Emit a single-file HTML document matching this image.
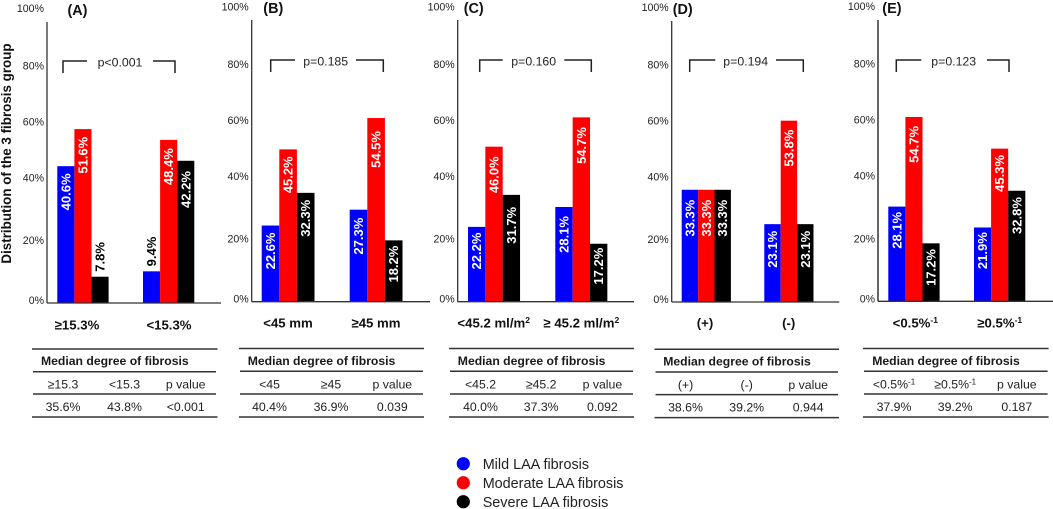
<!DOCTYPE html>
<html lang="en">
<head>
<meta charset="utf-8">
<title>Distribution of the 3 fibrosis groups</title>
<style>
html,body{margin:0;padding:0;background:#fff;}
svg{display:block;font-family:"Liberation Sans",sans-serif;}
.th{font-size:12.2px;font-weight:bold;fill:#1a1a1a;}
.td{font-size:12.3px;fill:#222;text-anchor:middle;}
.rule{stroke:#333;stroke-width:1.5;}
.lg{font-size:14.4px;fill:#222;}
</style>
</head>
<body>
<svg id="figure" width="1053" height="509" viewBox="0 0 1053 509" xmlns="http://www.w3.org/2000/svg">
  <rect x="0" y="0" width="1053" height="509" fill="#fff"/>
  <text transform="translate(6.5,153.5) rotate(-90)" text-anchor="middle" dominant-baseline="central" font-size="13.4" font-weight="bold" fill="#111">Distribution of the 3 fibrosis group</text>
  <g id="panels"></g>

  <g>
    <line class="rule" x1="32" x2="217.5" y1="349" y2="349"/>
    <line class="rule" x1="33" x2="216" y1="371.7" y2="371.7"/>
    <line class="rule" x1="33" x2="216" y1="394" y2="394"/>
    <line class="rule" x1="32" x2="217.5" y1="417" y2="417"/>
    <text class="th" x="41" y="365">Median degree of fibrosis</text>
    <text class="td" x="63" y="388.5">≥15.3</text>
    <text class="td" x="124.5" y="388.5">&lt;15.3</text>
    <text class="td" x="185.7" y="388.5">p value</text>
    <text class="td" x="63" y="411">35.6%</text>
    <text class="td" x="124.5" y="411">43.8%</text>
    <text class="td" x="185.7" y="411">&lt;0.001</text>
  </g>
  <g>
    <line class="rule" x1="239" x2="424" y1="348.5" y2="348.5"/>
    <line class="rule" x1="240" x2="423" y1="371.2" y2="371.2"/>
    <line class="rule" x1="240" x2="423" y1="394" y2="394"/>
    <line class="rule" x1="239" x2="424" y1="417" y2="417"/>
    <text class="th" x="247.7" y="365">Median degree of fibrosis</text>
    <text class="td" x="269.5" y="388.5">&lt;45</text>
    <text class="td" x="331" y="388.5">≥45</text>
    <text class="td" x="392.3" y="388.5">p value</text>
    <text class="td" x="269.5" y="411">40.4%</text>
    <text class="td" x="331" y="411">36.9%</text>
    <text class="td" x="392.3" y="411">0.039</text>
  </g>
  <g>
    <line class="rule" x1="449" x2="634" y1="348.5" y2="348.5"/>
    <line class="rule" x1="450" x2="633" y1="371.2" y2="371.2"/>
    <line class="rule" x1="450" x2="633" y1="394" y2="394"/>
    <line class="rule" x1="449" x2="634" y1="417" y2="417"/>
    <text class="th" x="457.8" y="365">Median degree of fibrosis</text>
    <text class="td" x="480.5" y="388.5">&lt;45.2</text>
    <text class="td" x="541.2" y="388.5">≥45.2</text>
    <text class="td" x="602.4" y="388.5">p value</text>
    <text class="td" x="480.5" y="411">40.0%</text>
    <text class="td" x="541.2" y="411">37.3%</text>
    <text class="td" x="602.4" y="411">0.092</text>
  </g>
  <g>
    <line class="rule" x1="654.5" x2="839" y1="349.2" y2="349.2"/>
    <line class="rule" x1="655.5" x2="838" y1="372" y2="372"/>
    <line class="rule" x1="655.5" x2="838" y1="394.6" y2="394.6"/>
    <line class="rule" x1="654.5" x2="839" y1="417.6" y2="417.6"/>
    <text class="th" x="663.2" y="365.5">Median degree of fibrosis</text>
    <text class="td" x="685.5" y="389">(+)</text>
    <text class="td" x="746.7" y="389">(-)</text>
    <text class="td" x="808.2" y="389">p value</text>
    <text class="td" x="685.5" y="411.5">38.6%</text>
    <text class="td" x="746.7" y="411.5">39.2%</text>
    <text class="td" x="808.2" y="411.5">0.944</text>
  </g>
  <g>
    <line class="rule" x1="863" x2="1048.6" y1="348.5" y2="348.5"/>
    <line class="rule" x1="864" x2="1047.6" y1="371.3" y2="371.3"/>
    <line class="rule" x1="864" x2="1047.6" y1="394" y2="394"/>
    <line class="rule" x1="863" x2="1048.6" y1="417" y2="417"/>
    <text class="th" x="872.2" y="365">Median degree of fibrosis</text>
    <text class="td" x="894" y="388.5">&lt;0.5%<tspan dy="-4" font-size="8">-1</tspan></text>
    <text class="td" x="955.2" y="388.5">≥0.5%<tspan dy="-4" font-size="8">-1</tspan></text>
    <text class="td" x="1016.8" y="388.5">p value</text>
    <text class="td" x="894" y="411">37.9%</text>
    <text class="td" x="955.2" y="411">39.2%</text>
    <text class="td" x="1016.8" y="411">0.187</text>
  </g>

  <g>
    <circle cx="463.3" cy="463.7" r="6.6" fill="#0000ff"/>
    <text class="lg" x="482.7" y="469">Mild LAA fibrosis</text>
    <circle cx="463.3" cy="482.7" r="6.6" fill="#ff0000"/>
    <text class="lg" x="482.7" y="488">Moderate LAA fibrosis</text>
    <circle cx="463.3" cy="501.7" r="6.6" fill="#000"/>
    <text class="lg" x="482.7" y="507">Severe LAA fibrosis</text>
  </g>
</svg>

<script>
// Chart data (one entry per panel, two groups per panel)
const panelTitles = ['(A)', '(B)', '(C)', '(D)', '(E)'];
const categories = [
  ['≥15.3%', '<15.3%'],
  ['<45 mm', '≥45 mm'],
  ['<45.2 ml/m', '≥ 45.2 ml/m'],
  ['(+)', '(-)'],
  ['<0.5%', '≥0.5%']
];
const categorySuperscripts = [
  ['', ''],
  ['', ''],
  ['2', '2'],
  ['', ''],
  ['-1', '-1']
];
const mildValues = [
  [40.6, 9.4],
  [22.6, 27.3],
  [22.2, 28.1],
  [33.3, 23.1],
  [28.1, 21.9]
];
const moderateValues = [
  [51.6, 48.4],
  [45.2, 54.5],
  [46.0, 54.7],
  [33.3, 53.8],
  [54.7, 45.3]
];
const severeValues = [
  [7.8, 42.2],
  [32.3, 18.2],
  [31.7, 17.2],
  [33.3, 23.1],
  [17.2, 32.8]
];
const pValues = ['p<0.001', 'p=0.185', 'p=0.160', 'p=0.194', 'p=0.123'];
const tickLabels = ['0%', '20%', '40%', '60%', '80%', '100%'];
// In the source figure the printed tick labels do not line up with the bars' own
// scale; these are the bar-scale values at which each printed label sits.
const tickValues = [0.6, 18.4, 37, 53.6, 70.2, 87.3];

const seriesNames = ['mild', 'moderate', 'severe'];
const seriesColors = ['#0000ff', '#ff0000', '#000000'];
const seriesValues = [mildValues, moderateValues, severeValues];

// Layout only: panel frames and how far each printed value sits below its bar top
const frames = [
  {axisX: 47,    axisEnd: 221,  top: 22, base: 303,   group0: 57.3,  group1: 143,   barW: 17.1, cat0: 77,    cat1: 169,   catY: 325, br0: 63,    br1: 175,   gap0: 87,    gap1: 153,   pX: 120,   brY: 61, titleX: 67.5},
  {axisX: 251.7, axisEnd: 430,  top: 20, base: 301.7, group0: 261.7, group1: 349.7, barW: 17.6, cat0: 288,   cat1: 376,   catY: 323, br0: 270.7, br1: 383.3, gap0: 295,   gap1: 356,   pX: 325.7, brY: 60, titleX: 263.3},
  {axisX: 457.7, axisEnd: 634,  top: 20, base: 301.7, group0: 468,   group1: 555.3, barW: 17.35, cat0: 493.7, cat1: 581.3, catY: 323, br0: 479.7, br1: 591.3, gap0: 502.7, gap1: 564.3, pX: 533.7, brY: 60, titleX: 463.7},
  {axisX: 671.7, axisEnd: 839.3, top: 21, base: 302,  group0: 681.7, group1: 764.3, barW: 16.4, cat0: 705,   cat1: 788.7, catY: 323, br0: 689.7, br1: 803.3, gap0: 715.3, gap1: 776,   pX: 745.7, brY: 60, titleX: 672.7},
  {axisX: 878,   axisEnd: 1053, top: 20, base: 301.3, group0: 888.3, group1: 974,   barW: 17.1, cat0: 915.3, cat1: 999.7, catY: 323, br0: 896.3, br1: 1009,  gap0: 921.3, gap1: 987,   pX: 953.7, brY: 60, titleX: 882.3}
];
const labelInsetLayout = [
  [[7.3, 5], [7.7, 8.3], [5, 10.3]],
  [[7, 8], [7, 13], [7, 5.3]],
  [[5.7, 9], [9.7, 9.7], [12, 4]],
  [[10, 6.7], [10, 9], [10, 6.7]],
  [[5.3, 4.7], [9, 6.3], [5.7, 6.3]]
];
const PX_PER_UNIT = 3.37;
const SVG_NS = 'http://www.w3.org/2000/svg';
const root = document.getElementById('panels');

function yScale(frame, value) { return frame.base - value * PX_PER_UNIT; }
function xScale(frame, groupIndex, seriesIndex) {
  return (groupIndex === 0 ? frame.group0 : frame.group1) + seriesIndex * frame.barW;
}
function make(tag, parent, attrs) {
  const node = document.createElementNS(SVG_NS, tag);
  Object.keys(attrs).forEach(function (k) { node.setAttribute(k, attrs[k]); });
  parent.appendChild(node);
  return node;
}

frames.forEach(function (f, p) {
  const letter = 'abcde'[p];
  const g = make('g', root, {});
  
  

  const title = make('text', g, {x: f.titleX, y: f.top - 7, 'font-size': 14.4, 'font-weight': 'bold', fill: '#111'});
  
  
  title.textContent = panelTitles[p];

  tickLabels.forEach(function (label, t) {
    const tick = make('text', g, {
      x: f.axisX - 3, y: yScale(f, tickValues[t]), 'text-anchor': 'end',
      'dominant-baseline': 'central', 'font-size': 10.6, fill: '#222'
    });
    
    
    tick.textContent = label;
  });

  seriesValues.forEach(function (series, s) {
    series[p].forEach(function (value, i) {
      const x = xScale(f, i, s);
      const y = yScale(f, value);
      const bar = make('rect', g, {x: x, y: y, width: f.barW, height: f.base - y, fill: seriesColors[s]});
      
      
    });
  });

  seriesValues.forEach(function (series, s) {
    series[p].forEach(function (value, i) {
      const cx = xScale(f, i, s) + f.barW / 2;
      const y = yScale(f, value);
      const outside = value < 10;
      const lab = make('text', g, {
        transform: 'translate(' + cx + ',' + (outside ? y - 5 : y + labelInsetLayout[p][s][i]) + ') rotate(-90)',
        'text-anchor': outside ? 'start' : 'end',
        'dominant-baseline': 'central',
        'font-size': 13, 'font-weight': 'bold',
        fill: outside ? '#000' : '#fff'
      });
      
      
      lab.textContent = value.toFixed(1) + '%';
    });
  });

  const axisStroke = p === 4 ? '#555' : '#333';
  const yAxis = make('line', g, {x1: f.axisX, x2: f.axisX, y1: f.top, y2: f.base, stroke: axisStroke, 'stroke-width': p === 4 ? 1.8 : 1.3});
  
  
  const xAxis = make('line', g, {x1: f.axisX, x2: f.axisEnd, y1: f.base, y2: f.base, stroke: '#333', 'stroke-width': 1.3});
  
  

  [f.cat0, f.cat1].forEach(function (cx, i) {
    const cat = make('text', g, {x: cx, y: f.catY + 4.7, 'text-anchor': 'middle', 'font-size': 13.2, 'font-weight': 'bold', fill: '#111'});
    
    
    cat.textContent = categories[p][i];
    if (categorySuperscripts[p][i]) {
      const sup = make('tspan', cat, {dy: -4.5, 'font-size': 8.5});
      sup.textContent = categorySuperscripts[p][i];
    }
  });

  const left = make('path', g, {d: 'M' + f.br0 + ' ' + (f.brY + 12) + 'V' + f.brY + 'H' + f.gap0, fill: 'none', stroke: '#222', 'stroke-width': 1.5});
  
  
  const right = make('path', g, {d: 'M' + f.gap1 + ' ' + f.brY + 'H' + f.br1 + 'V' + (f.brY + 12), fill: 'none', stroke: '#222', 'stroke-width': 1.5});
  
  
  const pText = make('text', g, {x: f.pX, y: f.brY + 1.5, 'text-anchor': 'middle', 'dominant-baseline': 'central', 'font-size': 12.3, fill: '#222'});
  
  
  pText.textContent = pValues[p];
});
</script>
</body>
</html>
